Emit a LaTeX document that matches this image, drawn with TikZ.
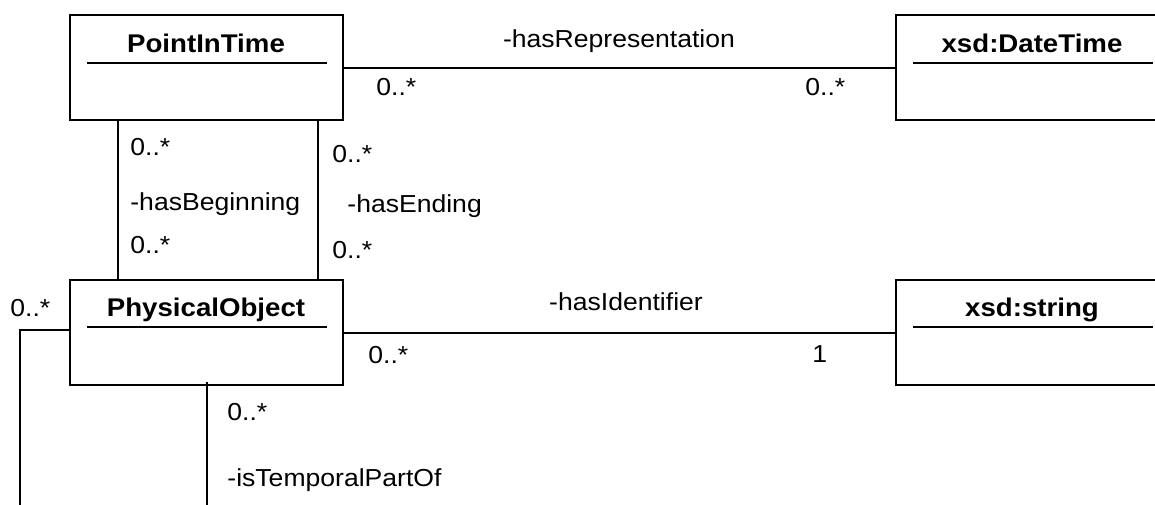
\documentclass[tikz,border=0pt]{standalone}
\usepackage{fontspec}
\setmainfont{Liberation Sans}[FakeStretch=1.08]
\begin{document}
\begin{tikzpicture}[x=0.5pt,y=-0.5pt,
  classbox/.style={draw,line width=1.4pt,minimum width=136.5pt,minimum height=52.5pt,inner sep=0pt},
  title/.style={anchor=base,font=\fontsize{12.8pt}{14pt}\selectfont\bfseries,inner sep=0pt},
  lbl/.style={anchor=base west,font=\fontsize{12.3pt}{14pt}\selectfont,inner sep=0pt},
  lblc/.style={anchor=base,font=\fontsize{12.3pt}{14pt}\selectfont,inner sep=0pt},
  conn/.style={line width=1pt},
  uline/.style={line width=1pt}]
\useasboundingbox (0,0) rectangle (1155,504);
% classes
\node[classbox] (pit) at (206.5,67.5) {};
\node[classbox] (po) at (206.5,332.5) {};
\node[classbox] (dt) at (1032.5,67.5) {};
\node[classbox] (str) at (1032.5,332.5) {};
% titles
\node[title] (pitT) at (206,52) {PointInTime};
\node[title] (poT) at (206,316) {PhysicalObject};
\node[title] (dtT) at (1032,52) {xsd:DateTime};
\node[title] (strT) at (1032,316) {xsd:string};
\draw[uline] (87,63) -- (327,63);
\draw[uline] (87,327) -- (327,327);
\draw[uline] (913,63) -- (1153,63);
\draw[uline] (913,327) -- (1153,327);
% coordinates
\coordinate (b1) at (118,0);
\coordinate (b2) at (318,0);
\coordinate (selfEnd) at (20,510);
\coordinate (tpEnd) at (207,510);
% connectors
\draw[conn] (pit.east) -- (dt.west);
\draw[conn] (po.east) -- (str.west);
\draw[conn] (pit.south -| b1) -- (po.north -| b1);
\draw[conn] (pit.south -| b2) -- (po.north -| b2);
\draw[conn] ([yshift=1.5pt]po.west) -| (selfEnd);
\draw[conn] ([yshift=2pt]po.south -| tpEnd) -- (tpEnd);
% labels
\node[lblc] (l1) at (619,47) {-hasRepresentation};
\node[lbl] (l2) at (376,95) {0..*};
\node[lbl] (l3) at (805,95) {0..*};
\node[lblc] (l4) at (626,310) {-hasIdentifier};
\node[lbl] (l5) at (368,363) {0..*};
\node[lbl] (l6) at (812,362) {1};
\node[lbl] (l7) at (130,155) {0..*};
\node[lbl] (l8) at (130,210) {-hasBeginning};
\node[lbl] (l9) at (130,253) {0..*};
\node[lbl] (l10) at (332,162) {0..*};
\node[lbl] (l11) at (347,212) {-hasEnding};
\node[lbl] (l12) at (332,258) {0..*};
\node[lbl] (l13) at (10,316) {0..*};
\node[lbl] (l14) at (227,420) {0..*};
\node[lbl] (l15) at (227,486) {-isTemporalPartOf};
\end{tikzpicture}
\end{document}
